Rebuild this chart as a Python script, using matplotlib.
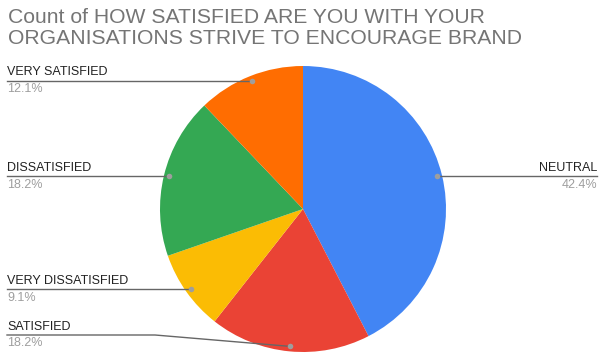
import matplotlib.pyplot as plt
import numpy as np

plt.rcParams["font.family"] = ["Liberation Sans", "DejaVu Sans"]

# Responses (clockwise from 12 o'clock)
labels = ['NEUTRAL', 'SATISFIED', 'VERY DISSATISFIED', 'DISSATISFIED', 'VERY SATISFIED']
counts = [14, 6, 3, 6, 4]
colors = ['#4285F4', '#EA4335', '#FBBC04', '#34A853', '#FF6D01']
title = 'Count of HOW SATISFIED ARE YOU WITH YOUR\nORGANISATIONS STRIVE TO ENCOURAGE BRAND'

W, H = 603, 358
cx, cy, R = 303, 209, 143  # pie centre / radius in pixels (y from top)

fig = plt.figure(figsize=(W / 100, H / 100), dpi=100)
ax = fig.add_axes([0, 0, 1, 1])

ax.pie(counts, colors=colors, startangle=90, counterclock=False,
       center=(cx, H - cy), radius=R, wedgeprops=dict(linewidth=0))
ax.set_xlim(0, W)
ax.set_ylim(0, H)
ax.set_aspect('equal')
ax.axis('off')

fig.text(8 / W, 1 - 8 / H, title, ha='left', va='top', fontsize=15.2,
         color='#757575', linespacing=1.12)

total = sum(counts)
start = 0.0
for lab, c in zip(labels, counts):
    frac = c / total
    mid = (start + frac / 2) * 2 * np.pi
    start += frac
    # anchor point on the slice
    px = cx + 0.965 * R * np.sin(mid)
    py = cy - 0.965 * R * np.cos(mid)
    ly = min(py, 335)
    if px > cx:
        xs, ys = [px, 597], [py, py]
        tx, ha = 597, 'right'
    else:
        xs = [7, 155, px] if ly != py else [7, px]
        ys = [ly] * (len(xs) - 1) + [py]
        tx, ha = 7, 'left'
    ax.plot(xs, [H - y for y in ys], color='#666666', lw=1.0, zorder=3)
    ax.plot(px, H - py, 'o', ms=4, color='#9e9e9e', mec='none', zorder=4)
    ax.text(tx, H - ly + 2.5, lab, ha=ha, va='bottom', fontsize=9, color='#222222')
    ax.text(tx, H - ly - 2.5, f'{frac * 100:.1f}%', ha=ha, va='top', fontsize=9,
            color='#9e9e9e')

fig.savefig('out.png', dpi=100)
